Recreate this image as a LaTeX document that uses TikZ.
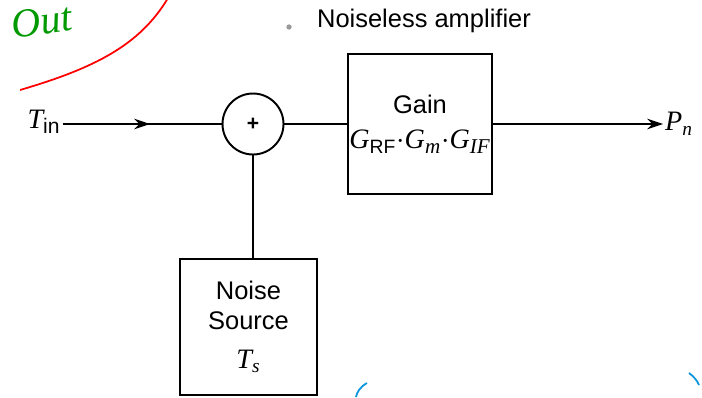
\documentclass[tikz,border=0pt]{standalone}
\usepackage{fontspec}
\setmainfont{Liberation Sans}
\newfontfamily\timesfont{Liberation Serif}
\usetikzlibrary{arrows.meta}
\usetikzlibrary{decorations.markings}

\newcommand{\sym}[1]{{\timesfont\itshape #1}}
\newcommand{\msub}[3]{$\hbox{#1}_{\hbox{\fontsize{#3}{#3}\selectfont #2}}$}

\begin{document}
\begin{tikzpicture}[x=0.02cm,y=-0.02cm]

	\tikzset{myblock/.style={draw, line width=1.1pt, inner sep=0pt, align=center, font=\fontsize{14.5}{16}\selectfont}}
	\tikzset{mysum/.style={draw, circle, line width=1.1pt, minimum size=1.22cm, inner sep=0pt}}
	\tikzset{myarrow/.style={-{Stealth[length=9pt,width=6pt]}, line width=1.1pt}}
	\tikzset{mymidarrow/.style={line width=1.1pt, decoration={markings, mark=at position 0.55 with {\arrow{Stealth[length=9pt,width=6pt]}}}, postaction={decorate}}}

	\useasboundingbox (0,0) rectangle (702,397);

	% blocks
	\node[mysum] (sum) at (253,124) {\bfseries\large +};
	\node[myblock, minimum width=2.88cm, minimum height=2.8cm] (gain) at (420,124)
	{Gain\\[4pt]{\fontsize{16}{17}\selectfont\msub{\sym{G}}{RF}{11}$\cdot$\msub{\sym{G}}{\sym{m}}{12}$\cdot$\msub{\sym{G}}{\sym{IF}}{12}}};
	\node[myblock, minimum width=2.74cm, minimum height=2.72cm] (noise) at (248.5,327)
	{Noise\\[1pt]Source\\[6pt]{\fontsize{16}{17}\selectfont\msub{\sym{T}}{\sym{s}}{11}}};

	% labels
	\node[inner sep=1pt] (tin) at (44,122) {\fontsize{16}{18}\selectfont\msub{\sym{T}}{in}{12}};
	\node[inner sep=1pt] (pn) at (679,124) {\fontsize{16}{18}\selectfont\msub{\sym{P}}{\sym{n}}{11}};
	\node[font=\fontsize{14.5}{16}\selectfont] (title) at (424,21) {Noiseless amplifier};
	\node[circle, fill=gray!80, inner sep=0pt, minimum size=3pt] (dot) at (289,27) {};

	% connectors
	\draw[mymidarrow] (tin.east |- sum) -- (sum.west);
	\draw[line width=1.1pt] (sum.east) -- (gain.west);
	\draw[myarrow] (gain.east) -- (pn.west |- gain);
	\draw[line width=1.1pt] (sum.south) -- (sum.south |- noise.north);

	% handwritten marks
	\draw[red, line width=1pt] (20,90) .. controls (95,68) and (140,45) .. (168,-2);
	\node[green!60!black, rotate=8, inner sep=1pt] (note) at (42,21) {\fontsize{23}{23}\selectfont\sym{Out}};
	\draw[cyan!80!blue, line width=1pt] (367,383) .. controls (360,387) and (357,392) .. (356,397);
	\draw[cyan!80!blue, line width=1pt] (689,373) .. controls (693,376) and (697,380) .. (699,385);

\end{tikzpicture}
\end{document}
